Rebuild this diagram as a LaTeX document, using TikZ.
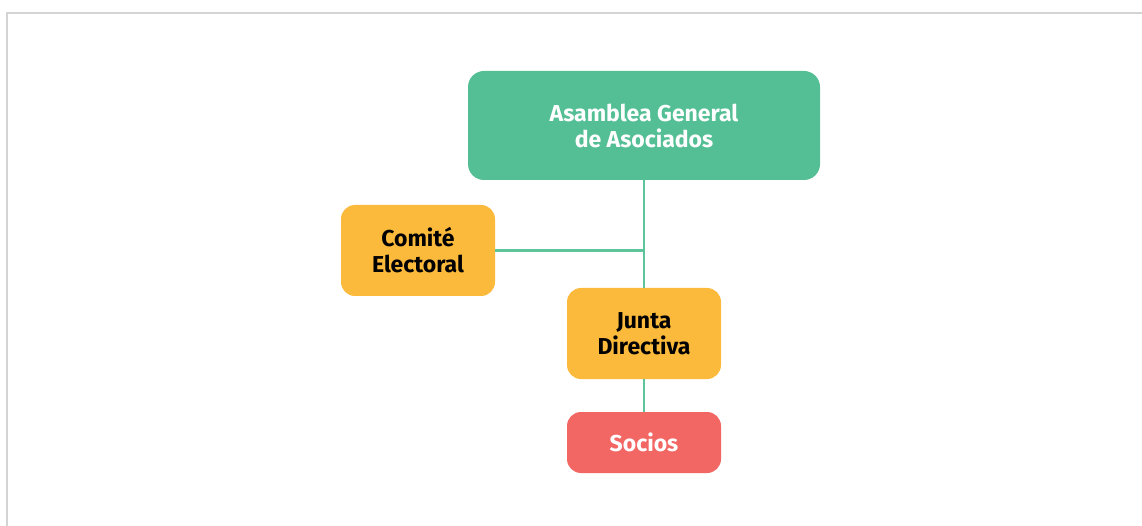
\documentclass[tikz,border=0pt]{standalone}
\usepackage{fontspec}
\setmainfont{Fira Sans}[UprightFont={* Bold}]
\definecolor{green1}{HTML}{54BF95}
\definecolor{orange1}{HTML}{FCBA3C}
\definecolor{red1}{HTML}{F26663}
\definecolor{line1}{HTML}{5DC49C}
\definecolor{frame1}{HTML}{D4D4D4}
\begin{document}
\begin{tikzpicture}[x=1pt,y=-1pt,
  box/.style={rectangle,rounded corners=14pt,inner sep=0pt,align=center,
    font=\fontsize{23}{26}\selectfont},
  conn/.style={draw=line1,line width=2.8pt}]
\useasboundingbox (0,0) rectangle (1142,526);
\draw[frame1,line width=2.5pt] (7,526) -- (7,13) -- (1142,13);
\node[box,fill=green1,text=white,minimum width=352pt,minimum height=109pt,rounded corners=16pt] (top) at (644,125.5) {Asamblea General\\de Asociados};
\node[box,fill=orange1,text=black,minimum width=154pt,minimum height=91pt] (comite) at (418,250.5) {Comité\\Electoral};
\node[box,fill=orange1,text=black,minimum width=154pt,minimum height=91pt] (junta) at (644,333.5) {Junta\\Directiva};
\node[box,fill=red1,text=white,minimum width=154pt,minimum height=61pt] (socios) at (644,442.5) {Socios};
\draw[conn] (top.south) -- (junta.north);
\draw[conn] (comite.east) -- (comite.east -| top.south);
\draw[conn] (junta.south) -- (socios.north);
\end{tikzpicture}
\end{document}
